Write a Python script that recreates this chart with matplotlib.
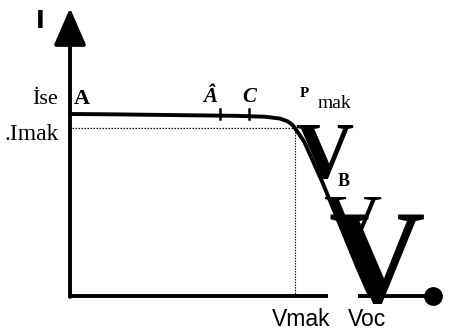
import numpy as np
import matplotlib
matplotlib.use("Agg")
import matplotlib.pyplot as plt

# I-V curve of a solar cell (normalised: Isc = 1, Voc = 1)
voltage = [0.0, 0.15, 0.3, 0.45, 0.55, 0.65, 0.70, 0.725, 0.742, 0.755,
           0.78, 0.84, 0.88, 0.92, 0.96, 1.0]
current = [1.0, 0.998, 0.995, 0.992, 0.99, 0.985, 0.975, 0.96, 0.94, 0.91,
           0.85, 0.63, 0.47, 0.31, 0.15, 0.0]

v_mak, i_mak = 0.75, 0.923
curve_marks = [0.5, 0.597]          # points B and C on the flat part
axis_end_v, axis_end_i = 1.183, 1.582
axis_gap = (0.86, 0.96)             # the voltage axis is hidden behind the big V here

fig = plt.figure(figsize=(4.51, 3.33), dpi=100)
ax = fig.add_axes([0, 0, 1, 1])
ax.set_xlim(-70 / 300, 381 / 300)
ax.set_ylim(-37 / 182, 296 / 182)
ax.axis("off")

serif = "Liberation Serif"
sans = "Liberation Sans"

# axes: current arrow up, voltage line with a dot at the end
ax.annotate("", xy=(0, axis_end_i), xytext=(0, -0.005),
            arrowprops=dict(arrowstyle="-|>,head_length=2.3,head_width=1.0",
                            lw=2.8, color="black", shrinkA=0, shrinkB=0))
ax.plot([0, axis_gap[0]], [0, 0], color="black", lw=2.8, solid_capstyle="butt")
ax.plot([axis_gap[1], axis_end_v], [0, 0], color="black", lw=2.8, solid_capstyle="butt")
ax.plot([axis_end_v + 0.027], [0], "o", color="black", ms=12.5)

# max power rectangle
ax.plot([0.005, v_mak], [i_mak, i_mak], color="black", lw=0.9, ls=(0, (1.2, 1.2)))
ax.plot([v_mak, v_mak], [0, i_mak], color="black", lw=0.8, ls=(0, (1.2, 1.2)))

# the curve
ax.plot(voltage, current, color="black", lw=2.8, solid_capstyle="round")
for m in curve_marks:
    ax.plot([m, m], [1.0 - 0.03, 1.0 + 0.025], color="black", lw=1.8)

# labels
ax.text(-0.113, 1.473, "I", fontsize=17, fontweight="bold", family="DejaVu Sans")
ax.text(-0.127, 1.055, "İse", fontsize=16, family=serif)
ax.text(0.013, 1.055, "A", fontsize=16, fontweight="bold", family=serif)
ax.text(-0.22, 0.857, ".Imak", fontsize=17, family=serif)
ax.text(0.443, 1.066, "Â", fontsize=15, style="italic", fontweight="bold", family=serif)
ax.text(0.573, 1.066, "C", fontsize=15, style="italic", fontweight="bold", family=serif)
ax.text(0.765, 1.093, "P", fontsize=11, fontweight="bold", family=serif)
ax.text(0.827, 1.033, "mak", fontsize=14, family=serif)

ax.text(0.752, 0.648, "V", fontsize=58, fontweight="bold", family=serif)
ax.text(0.893, 0.605, "B", fontsize=13, fontweight="bold", family=serif)
ax.text(0.843, 0.253, "V", fontsize=58, family=serif)
ax.text(0.862, -0.033, "V", fontsize=96, fontweight="bold", family=serif)

ax.text(0.673, -0.165, "Vmak", fontsize=16.5, family=sans)
ax.text(0.927, -0.165, "Voc", fontsize=16.5, family=sans)

fig.savefig("out.png", dpi=100)
